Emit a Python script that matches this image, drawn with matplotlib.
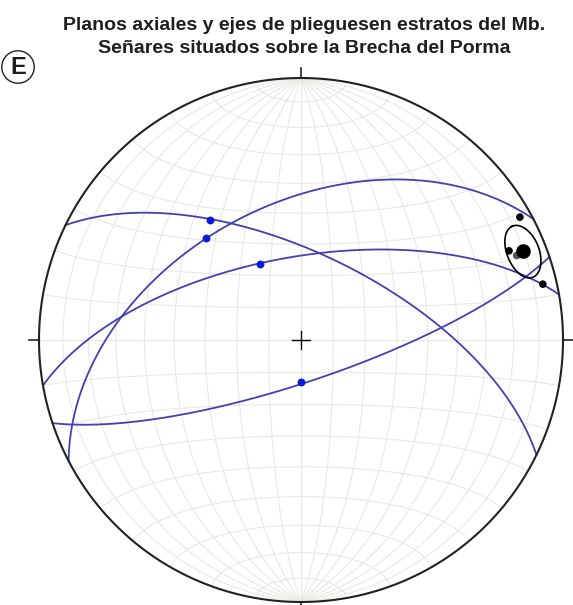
import numpy as np
import matplotlib.pyplot as plt

# Axial planes (right-hand rule strike / dip, degrees)
plane_strike = [296, 242.5, 260, 71.5]
plane_dip = [63, 47, 64, 77]

# Fold axes measured on each axial plane (trend / plunge)
lin_trend = [323, 317, 332, 180]
lin_plunge = [42, 46, 63, 77]

# Fold axes from the stratification (trend / plunge)
axis_trend = [60.7, 66.8, 77.0, 68.6]
axis_plunge = [4.7, 14.7, 5.9, 12.6]
axis_colors = ['black', 'black', 'black', '#555555']
cone_angle = 6.5  # confidence cone half-angle around the mean axis

title = "Planos axiales y ejes de plieguesen estratos del Mb.\nSeñares situados sobre la Brecha del Porma"
panel_label = "E"


def vec_to_line(v):
    n, e, d = v
    if d < 0:
        n, e, d = -n, -e, -d
    plunge = np.degrees(np.arcsin(np.clip(d, -1, 1)))
    trend = np.degrees(np.arctan2(e, n)) % 360
    return trend, plunge


def project(trend, plunge):
    # Schmidt (equal-area), lower hemisphere
    t = np.radians(trend)
    r = np.sqrt(2) * np.sin(np.radians(90 - np.asarray(plunge)) / 2)
    return r * np.sin(t), r * np.cos(t)


def line_vec(trend, plunge):
    t, p = np.radians(trend), np.radians(plunge)
    return np.array([np.cos(p) * np.cos(t), np.cos(p) * np.sin(t), np.sin(p)])


def great_circle(strike, dip, n=361):
    s = np.radians(strike)
    dd = s + np.pi / 2
    dp = np.radians(dip)
    sv = np.array([np.cos(s), np.sin(s), 0.0])
    dv = np.array([np.cos(dp) * np.cos(dd), np.cos(dp) * np.sin(dd), np.sin(dp)])
    rk = np.radians(np.linspace(0, 180, n))
    pts = np.outer(np.cos(rk), sv) + np.outer(np.sin(rk), dv)
    return proj_vecs(pts)


def small_circle(axis, angle, n=361):
    # vectors on a cone around axis (both hemispheres)
    axis = axis / np.linalg.norm(axis)
    helper = np.array([0.0, 0.0, 1.0]) if abs(axis[2]) < 0.9 else np.array([1.0, 0.0, 0.0])
    u = np.cross(axis, helper)
    u /= np.linalg.norm(u)
    w = np.cross(axis, u)
    a = np.radians(angle)
    ph = np.radians(np.linspace(0, 360, n))
    return (np.cos(a) * axis[None, :] + np.sin(a) *
            (np.cos(ph)[:, None] * u[None, :] + np.sin(ph)[:, None] * w[None, :]))


def proj_vecs(vecs):
    # lower hemisphere only; points above it break the line
    n, e, d = vecs[:, 0], vecs[:, 1], vecs[:, 2]
    upper = d < -1e-9
    d = np.clip(d, 0, 1)
    plunge = np.degrees(np.arcsin(d))
    trend = np.degrees(np.arctan2(e, n))
    x, y = project(trend, plunge)
    x[upper] = np.nan
    y[upper] = np.nan
    return x, y


W, H = 573, 605
cx, cy, R = 301, 340, 262
fig = plt.figure(figsize=(W / 100, H / 100), dpi=100)
ax = fig.add_axes([0, 0, 1, 1])
ax.set_xlim(-cx / R, (W - cx) / R)
ax.set_ylim(-(H - cy) / R, cy / R)
ax.axis('off')

# --- Schmidt net (10 degree) ---
grid_kw = dict(color='#e8e8e3', lw=0.8, zorder=1)
for d in range(10, 90, 10):
    for s in (0, 180):
        gx, gy = great_circle(s, d)
        ax.plot(gx, gy, **grid_kw)
for a in range(10, 90, 10):
    for ax_tr in (0, 180):
        gx, gy = proj_vecs(small_circle(line_vec(ax_tr, 0), a))
        ax.plot(gx, gy, **grid_kw)
ax.plot([0, 0], [-1, 1], **grid_kw)
ax.plot([-1, 1], [0, 0], **grid_kw)

# primitive circle, ticks and centre cross
th = np.linspace(0, 2 * np.pi, 721)
ax.plot(np.cos(th), np.sin(th), color='#222222', lw=1.5, zorder=5)
tk = 10 / R
for px, py in [(0, 1), (1, 0), (0, -1), (-1, 0)]:
    ax.plot([px, px * (1 + tk)], [py, py * (1 + tk)], color='#222222', lw=1.2, zorder=5)
cc = 9 / R
ax.plot([-cc, cc], [0, 0], color='black', lw=1.0, zorder=5)
ax.plot([0, 0], [-cc, cc], color='black', lw=1.0, zorder=5)

# --- axial planes and the axes lying on them ---
for s, d in zip(plane_strike, plane_dip):
    gx, gy = great_circle(s, d)
    ax.plot(gx, gy, color='#4240b2', lw=1.3, zorder=3)
lx, ly = project(np.array(lin_trend), np.array(lin_plunge))
ax.scatter(lx, ly, s=32, color='#0a1ad6', zorder=6, linewidths=0)

# --- fold axes, mean and confidence cone ---
vecs = np.array([line_vec(t, p) for t, p in zip(axis_trend, axis_plunge)])
ax_x, ax_y = project(np.array(axis_trend), np.array(axis_plunge))
ax.scatter(ax_x, ax_y, s=30, c=axis_colors, zorder=6, linewidths=0)
mean_v = vecs.sum(axis=0)
mean_v /= np.linalg.norm(mean_v)
m_tr, m_pl = vec_to_line(mean_v)
mx, my = project(m_tr, m_pl)
ax.scatter([mx], [my], s=110, color='black', zorder=7, linewidths=0)
ex, ey = proj_vecs(small_circle(mean_v, cone_angle))
ax.plot(ex, ey, color='black', lw=1.2, zorder=6)

# --- title and panel letter ---
title_font = ['Liberation Sans Narrow', 'Liberation Sans', 'DejaVu Sans']
fig.text(304 / W, 1 - 37 / H, title, ha='center', va='center', fontsize=14,
         fontweight='bold', family=title_font, color='#1e1e1e', linespacing=1.45)
fig.text(18 / W, 1 - 67 / H, panel_label, ha='center', va='center', fontsize=17,
         fontweight='bold', family=['Liberation Sans', 'DejaVu Sans'], color='#1e1e1e',
         bbox=dict(boxstyle='circle,pad=0.2', fc='white', ec='#222222', lw=1.0))

fig.savefig('out.png', dpi=100)
